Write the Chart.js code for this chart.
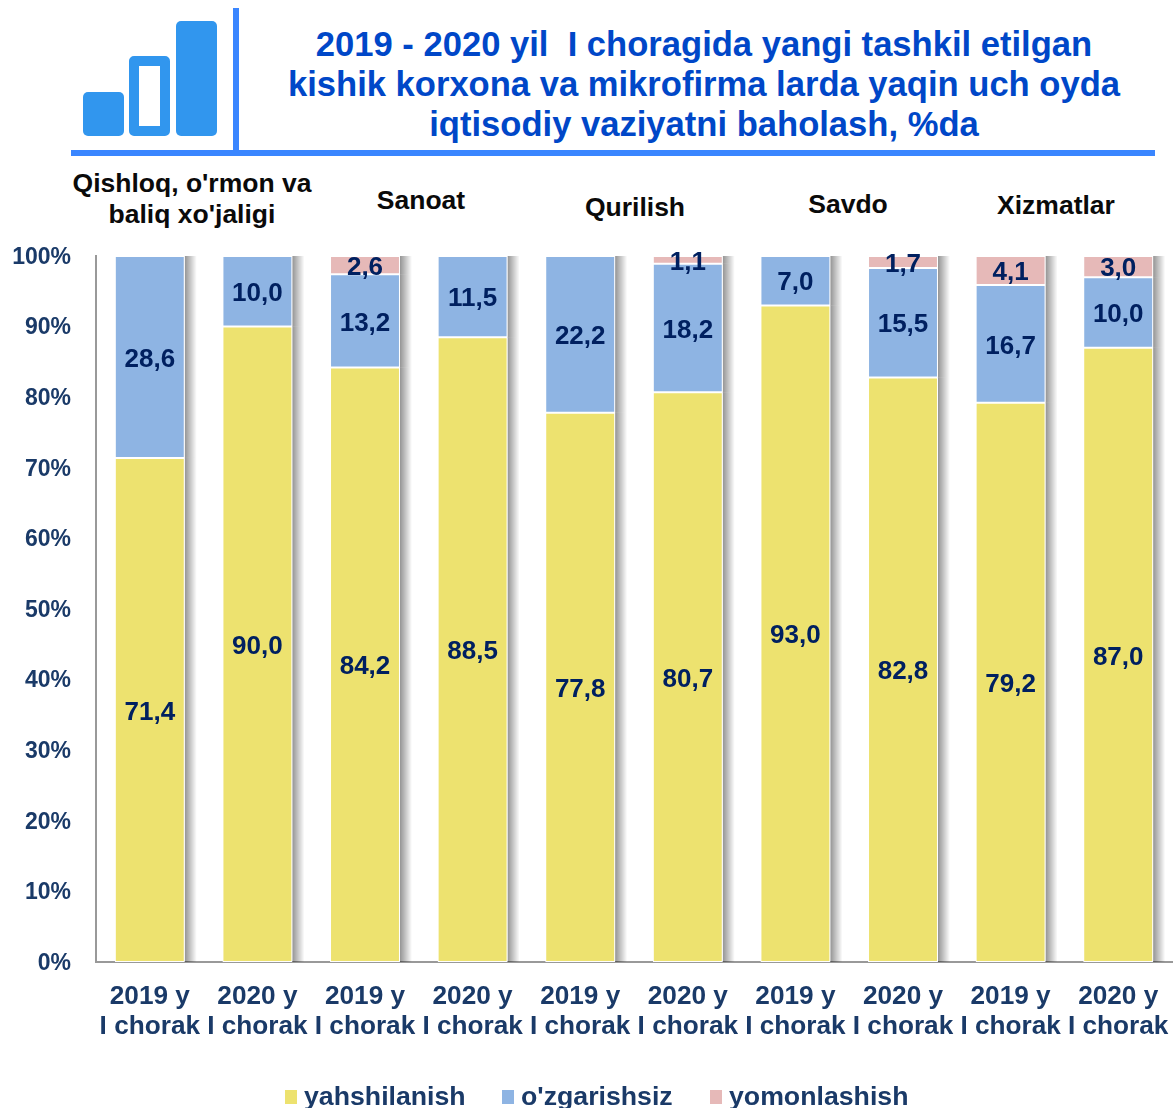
<!DOCTYPE html>
<html>
<head>
<meta charset="utf-8">
<script src="https://cdn.jsdelivr.net/npm/chart.js@4"></script>
<style>
html,body{margin:0;padding:0;background:#fff}
body{position:relative;width:1174px;height:1108px;overflow:hidden;font-family:"Liberation Sans",Arial,sans-serif;font-weight:bold}
#chart{position:absolute;left:0;top:0}
.rule{position:absolute;background:#3a86ff}
.logo{position:absolute;background:#3196ee;border-radius:5px}
.title{position:absolute;left:254px;width:900px;text-align:center;color:#0047c8;font-size:34.6px;line-height:40px;top:24px;white-space:nowrap}
.group{position:absolute;transform:translate(-50%,-50%);text-align:center;color:#0a0a0a;font-size:26.5px;line-height:31px;white-space:nowrap}
#legend span{position:absolute;top:1080px;font-size:26.7px;line-height:32px;color:#1a3a68;white-space:nowrap}
#legend i{position:absolute;top:1090px;width:12px;height:14px}
</style>
</head>
<body>
<div class="logo" style="left:83px;top:92px;width:41px;height:44px"></div>
<div class="logo" style="left:129px;top:56px;width:21px;height:60px;border:10px solid #3196ee;background:#fff"></div>
<div class="logo" style="left:176px;top:21px;width:41px;height:115px"></div>
<div class="rule" style="left:233px;top:8px;width:6px;height:144px"></div>
<div class="rule" style="left:71px;top:150px;width:1084px;height:6px"></div>
<div class="title">2019 - 2020 yil&nbsp; I choragida yangi tashkil etilgan<br>kishik korxona va mikrofirma larda yaqin uch oyda<br>iqtisodiy vaziyatni baholash, %da</div>
<div class="group" style="left:192px;top:199px">Qishloq, o'rmon va<br>baliq xo'jaligi</div>
<div class="group" style="left:421px;top:200px">Sanoat</div>
<div class="group" style="left:635px;top:207px">Qurilish</div>
<div class="group" style="left:848px;top:204px">Savdo</div>
<div class="group" style="left:1056px;top:205px">Xizmatlar</div>
<canvas id="chart" width="1174" height="1108"></canvas>
<div id="legend"></div>
<script>
const categories=[['2019 y','I chorak'],['2020 y','I chorak'],['2019 y','I chorak'],['2020 y','I chorak'],['2019 y','I chorak'],['2020 y','I chorak'],['2019 y','I chorak'],['2020 y','I chorak'],['2019 y','I chorak'],['2020 y','I chorak']];
const yahshilanish=[71.4,90.0,84.2,88.5,77.8,80.7,93.0,82.8,79.2,87.0];
const ozgarishsiz=[28.6,10.0,13.2,11.5,22.2,18.2,7.0,15.5,16.7,10.0];
const yomonlashish=[null,null,2.6,null,null,1.1,null,1.7,4.1,3.0];
const font='"Liberation Sans",Arial,sans-serif';
const axisColor='#1a3a68';

// soft shadow down the right side of each bar; the border clip in BarElement hides a canvas shadow
const barShadow={
  id:'barShadow',
  beforeDatasetsDraw(chart){
    const c=chart.ctx;
    c.save();
    chart.data.datasets.forEach((set,index)=>{
      chart.getDatasetMeta(index).data.forEach((bar,i)=>{
        if(set.data[i]===null)return;
        const right=bar.x+bar.width/2,top=Math.min(bar.y,bar.base),height=Math.abs(bar.base-bar.y);
        const fade=c.createLinearGradient(right,0,right+12,0);
        fade.addColorStop(0,'rgba(0,0,0,.42)');
        fade.addColorStop(1,'rgba(0,0,0,0)');
        c.fillStyle=fade;
        c.fillRect(right,top,12,height);
      });
    });
    c.restore();
  }
};
const barLabels={
  id:'barLabels',
  afterDatasetsDraw(chart){
    const c=chart.ctx;
    c.save();
    c.font='bold 26px '+font;c.fillStyle='#002060';c.textAlign='center';c.textBaseline='middle';
    chart.data.datasets.forEach((set,index)=>{
      chart.getDatasetMeta(index).data.forEach((bar,i)=>{
        const value=set.data[i];
        if(value===null)return;
        const point=bar.getCenterPoint();
        c.fillText(value.toFixed(1).replace('.',','),point.x,point.y+2.5);
      });
    });
    c.restore();
  }
};
// the tick labels get clipped to the scale box, so let it reach the canvas edge
const wideLabels={id:'wideLabels',afterLayout(chart){chart.scales.y.left=0;}};

const bar=(label,data,color)=>({label,data,backgroundColor:color,borderColor:'#fff',borderWidth:1,borderSkipped:false,barPercentage:.65,categoryPercentage:1});

const chart=new Chart(document.getElementById('chart'),{
  type:'bar',
  data:{labels:categories,datasets:[
    bar('yahshilanish',yahshilanish,'#ede26f'),
    bar("o'zgarishsiz",ozgarishsiz,'#8eb4e3'),
    bar('yomonlashish',yomonlashish,'#e6b9b8')
  ]},
  options:{
    responsive:false,animation:false,
    layout:{padding:{left:0,right:2,top:256,bottom:46}},
    plugins:{tooltip:{enabled:false},legend:{display:false}},
    scales:{
      x:{
        stacked:true,
        grid:{display:false,drawTicks:false},
        border:{color:'#999',width:2},
        ticks:{color:axisColor,padding:20,maxRotation:0,autoSkip:false,font:{family:font,size:26.2,weight:'bold',lineHeight:1.15}},
        afterFit(scale){scale.height=100;scale.paddingLeft=0;scale.paddingRight=0;}
      },
      y:{
        stacked:true,min:0,max:100,
        grid:{display:false,drawTicks:false},
        border:{color:'#999',width:2},
        ticks:{stepSize:10,padding:25,labelOffset:1.5,color:axisColor,font:{family:font,size:23,weight:'bold'},callback:value=>value+'%'},
        afterFit(scale){scale.width=96;scale.paddingTop=0;scale.paddingBottom=0;}
      }
    }
  },
  plugins:[barShadow,barLabels,wideLabels]
});

const legendSwatchX=[285,502,710];
const legendTextX=[304,521,729];
document.getElementById('legend').innerHTML=chart.data.datasets.map((set,i)=>
  `<i style="left:${legendSwatchX[i]}px;background:${set.backgroundColor}"></i><span style="left:${legendTextX[i]}px">${set.label}</span>`
).join('');
</script>
</body>
</html>
